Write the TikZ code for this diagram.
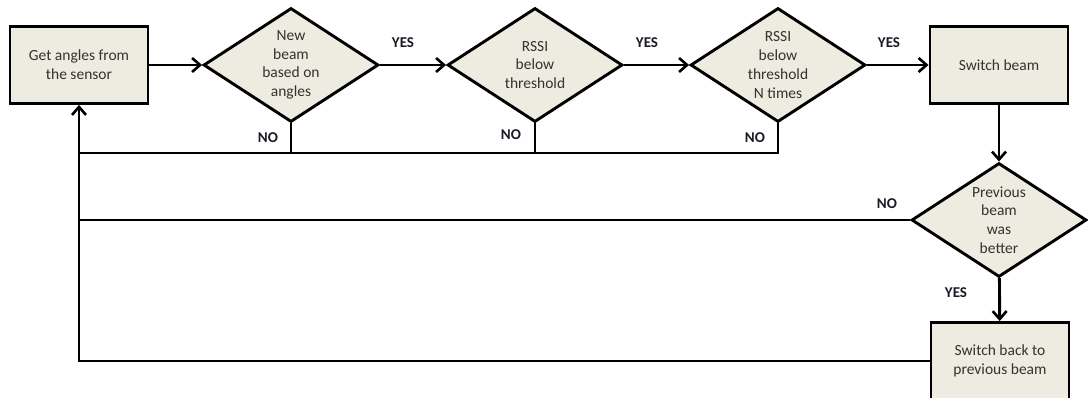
\documentclass[tikz,border=0pt]{standalone}
\usepackage{fontspec}
\setmainfont{Carlito}
\usetikzlibrary{shapes.geometric,arrows.meta}
\definecolor{boxfill}{HTML}{EEECE1}
\definecolor{boxtext}{HTML}{33332F}
\definecolor{labtext}{HTML}{1A1A26}
\tikzset{
  flow/.style={line width=2.9pt, draw=black},
  arr/.style={flow, -{Straight Barb[length=8pt,width=14pt,line width=2.6pt]}},
  procbox/.style={draw=black, line width=2.9pt, fill=boxfill, text=boxtext,
    minimum width=138pt, minimum height=77pt, align=center, inner sep=2pt,
    font=\fontsize{15.5}{18.7}\selectfont},
  decision/.style={draw=black, line width=2.9pt, fill=boxfill, text=boxtext,
    shape=diamond, aspect=1.53, minimum width=175pt, minimum height=114pt,
    inner sep=-4pt, align=center, font=\fontsize{15.5}{18.7}\selectfont},
  lab/.style={text=labtext, font=\fontsize{15}{16}\bfseries\selectfont, inner sep=0pt}
}
\begin{document}
\begin{tikzpicture}[x=1pt,y=-1pt]
\useasboundingbox (0,0) rectangle (1088,398);

% process boxes and decisions
\node[procbox] (get) at (79,65) {Get angles from\\the sensor};
\node[decision] (d1) at (291,65) {New\\beam\\based on\\angles};
\node[decision] (d2) at (535,65) {RSSI\\below\\threshold};
\node[decision] (d3) at (778,65) {RSSI\\below\\threshold\\N times};
\node[procbox] (sw) at (999,65) {Switch beam};
\node[decision] (d4) at (999,220) {Previous\\beam\\was\\better};
\node[procbox] (back) at (1000,361) {Switch back to\\previous beam};

% main path
\draw[arr] (get) -- (d1);
\draw[arr] (d1) -- (d2);
\draw[arr] (d2) -- (d3);
\draw[arr] (d3) -- (sw);
\draw[arr] (sw) -- (d4);
\draw[arr] (d4) -- (back);

% return paths to the first box
\coordinate (bus) at (79,153);
\draw[flow] (d3.south) |- (bus);
\draw[flow] (d1.south) -- (d1.south |- bus);
\draw[flow] (d2.south) -- (d2.south |- bus);
\draw[flow] (d4.west) -- (d4.west -| get.south);
\draw[arr] (back.west) -| (get.south);

% branch labels
\node[lab] (y1) at (403,43) {YES};
\node[lab] (y2) at (647,43) {YES};
\node[lab] (y3) at (889,43) {YES};
\node[lab] (n1) at (268,138) {NO};
\node[lab] (n2) at (511,135) {NO};
\node[lab] (n3) at (755,138) {NO};
\node[lab] (n4) at (887,204) {NO};
\node[lab] (y4) at (956,293) {YES};
\end{tikzpicture}
\end{document}
